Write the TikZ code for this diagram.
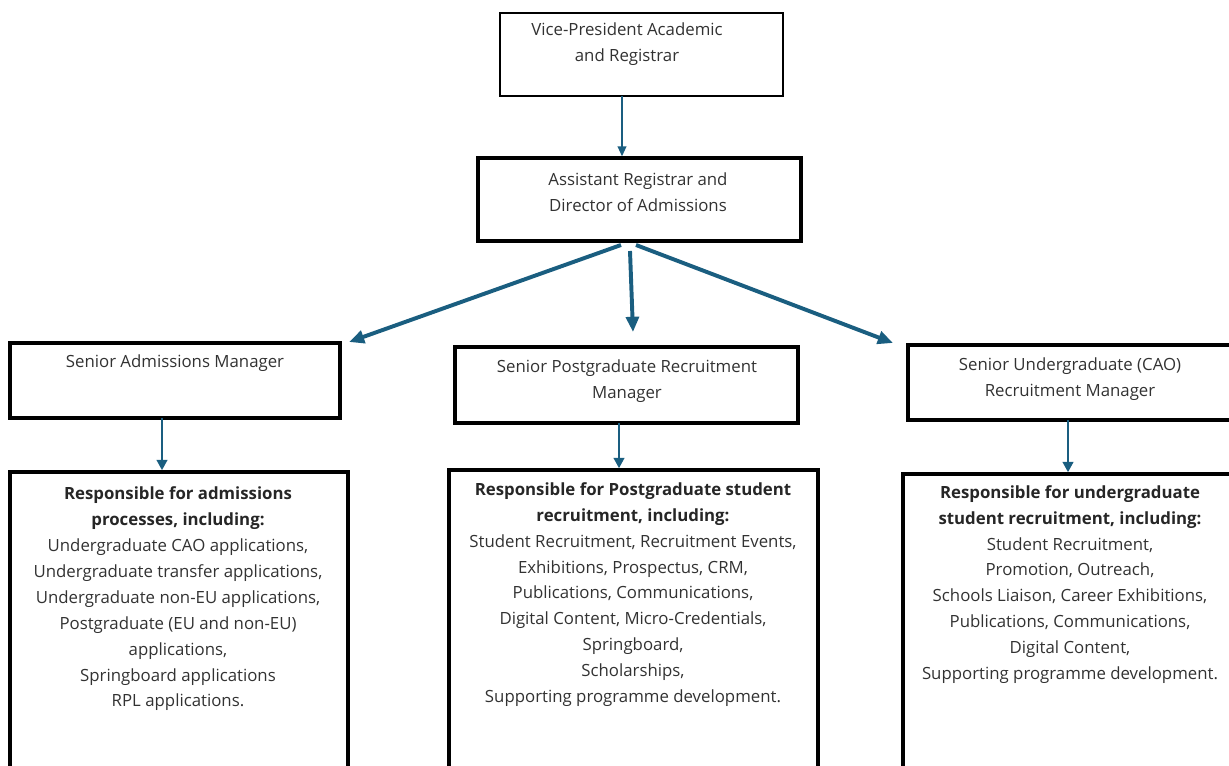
\documentclass[tikz,border=0pt]{standalone}
\usepackage{fontspec}
\setmainfont{Open Sans}
\usetikzlibrary{arrows.meta,fit}
\definecolor{linkblue}{RGB}{26,94,128}
\definecolor{txtgray}{RGB}{50,50,50}
\tikzset{
  thinbox/.style={draw, line width=1pt, inner sep=0pt},
  thickbox/.style={draw, line width=2.4pt, inner sep=0pt},
  boxtext/.style={align=center, text=txtgray, inner sep=0pt,
    font=\fontsize{11.95}{18.4}\selectfont},
  thinlink/.style={draw=linkblue, line width=1pt,
    -{Triangle[length=0.25cm,width=0.22cm]}},
  downlink/.style={draw=linkblue, line width=2pt,
    -{Triangle[length=0.26cm,width=0.26cm]}},
  forklink/.style={draw=linkblue, line width=2.8pt,
    -{Triangle[length=0.38cm,width=0.32cm]}}
}
\newcommand{\head}[1]{\textbf{\color{black!85}#1}}
\begin{document}
\begin{tikzpicture}[x=0.025cm, y=-0.025cm]
  \useasboundingbox (0,0) rectangle (1229,766);
  \clip (0,0) rectangle (1229,766);
  % boxes
  \node[thinbox, fit={(500,13) (783,96)}] (vp) {};
  \node[thickbox, fit={(478,158) (801,241)}] (arda) {};
  \node[thickbox, fit={(10,343) (340,418)}] (sam) {};
  \node[thickbox, fit={(455,347) (798,423)}] (sprm) {};
  \node[thickbox, fit={(908,345) (1260,420)}] (surm) {};
  \node[thickbox, fit={(10,472) (348,800)}] (adm) {};
  \node[thickbox, fit={(449,470) (818,800)}] (pgr) {};
  \node[thickbox, fit={(903,474) (1260,800)}] (ugr) {};
  % texts
  \node[boxtext] (vptext) at (627,44) {Vice-President Academic\\and Registrar};
  \node[boxtext] (ardatext) at (638,192) {Assistant Registrar and\\Director of Admissions};
  \node[boxtext] (samtext) at (175,363) {Senior Admissions Manager};
  \node[boxtext] (sprmtext) at (627,381) {Senior Postgraduate Recruitment\\Manager};
  \node[boxtext] (surmtext) at (1070,379) {Senior Undergraduate (CAO)\\Recruitment Manager};
  \node[boxtext] (admtext) at (178,599) {\head{Responsible for admissions}\\
    \head{processes, including:}\\
    Undergraduate CAO applications,\\
    Undergraduate transfer applications,\\
    Undergraduate non-EU applications,\\
    Postgraduate (EU and non-EU)\\
    applications,\\
    Springboard applications\\
    RPL applications.};
  \node[boxtext] (pgrtext) at (633,594.5) {\head{Responsible for Postgraduate student}\\
    \head{recruitment, including:}\\
    Student Recruitment, Recruitment Events,\\
    Exhibitions, Prospectus, CRM,\\
    Publications, Communications,\\
    Digital Content, Micro-Credentials,\\
    Springboard,\\
    Scholarships,\\
    Supporting programme development.};
  \node[boxtext] (ugrtext) at (1070,584.5) {\head{Responsible for undergraduate}\\
    \head{student recruitment, including:}\\
    Student Recruitment,\\
    Promotion, Outreach,\\
    Schools Liaison, Career Exhibitions,\\
    Publications, Communications,\\
    Digital Content,\\
    Supporting programme development.};
  % connector ends
  \coordinate (vpout) at (622,96);
  \coordinate (forkl) at (621,245);
  \coordinate (forkm) at (630,251);
  \coordinate (forkr) at (636,245);
  \coordinate (samin) at (349,342);
  \coordinate (sprmin) at (633,332);
  \coordinate (surmin) at (893,343);
  \coordinate (samout) at (162,418);
  \coordinate (sprmout) at (619,423);
  \coordinate (surmout) at (1068,420);
  % connectors
  \draw[thinlink] (vpout) -- (vpout |- arda.north);
  \draw[forklink] (forkl) -- (samin);
  \draw[forklink] (forkm) -- (sprmin);
  \draw[forklink] (forkr) -- (surmin);
  \draw[downlink] (samout) -- (samout |- adm.north);
  \draw[downlink] (sprmout) -- (sprmout |- pgr.north);
  \draw[downlink] (surmout) -- (surmout |- ugr.north);
\end{tikzpicture}
\end{document}
